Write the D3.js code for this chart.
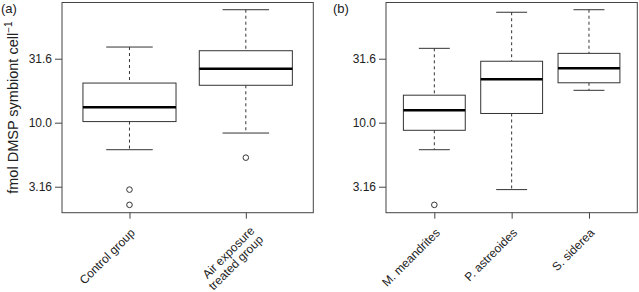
<!DOCTYPE html>
<html>
<head>
<meta charset="utf-8">
<script src="https://cdn.jsdelivr.net/npm/d3@7"></script>
<style>
  body { margin: 0; background: #fff; }
  text { font-family: "Liberation Sans", Arial, sans-serif; fill: #222; }
</style>
</head>
<body>
<script>
// panel (a) data
var groupsA = ["Control group", "Air exposure|treated group"];
var hiA = [39.0, 76.3];
var q3A = [20.4, 36.5];
var medA = [13.2, 26.4];
var q1A = [10.2, 19.6];
var loA = [6.15, 8.3];
var outA = [[3.0, 2.28], [5.33]];

// panel (b) data
var groupsB = ["M. meandrites", "P. astreoides", "S. siderea"];
var hiB = [38.1, 72.9, 76.3];
var q3B = [16.4, 30.2, 34.8];
var medB = [12.5, 21.8, 26.6];
var q1B = [8.72, 11.8, 20.5];
var loB = [6.15, 3.0, 17.9];
var outB = [[2.28], [], []];

var tickVals = [3.16, 10.0, 31.6];
var tickLabels = ["3.16", "10.0", "31.6"];

var W = 639, H = 292;
var plotTop = 2.5, plotBottom = 212.7;

var svg = d3.select("body").append("svg")
    .attr("width", W)
    .attr("height", H);

var y = d3.scaleLog()
    .domain([1.98, 86.9])
    .range([plotBottom, plotTop]);

function panel(opts) {
  var g = svg.append("g");
  var x = d3.scalePoint()
      .domain(opts.groups)
      .range([opts.left, opts.right])
      .padding(opts.pad);
  var bw = x.step() * 0.8;

  var rows = opts.groups.map(function(name, i) {
    return {name: name, hi: opts.hi[i], q3: opts.q3[i], med: opts.med[i],
            q1: opts.q1[i], lo: opts.lo[i], out: opts.out[i]};
  });

  // frame
  g.append("rect")
    .attr("x", opts.left).attr("y", plotTop)
    .attr("width", opts.right - opts.left).attr("height", plotBottom - plotTop)
    .attr("fill", "none").attr("stroke", "#444").attr("stroke-width", 1);

  // y axis
  var yAxis = g.append("g")
    .attr("transform", "translate(" + opts.left + ",0)")
    .call(d3.axisLeft(y).tickValues(tickVals)
      .tickFormat(function(d, i) { return tickLabels[i]; })
      .tickSize(7).tickPadding(3));
  yAxis.select(".domain").remove();
  yAxis.selectAll("line").attr("stroke", "#444");
  yAxis.selectAll("text").attr("font-size", 12).attr("fill", "#222")
    .attr("font-family", "Liberation Sans, Arial, sans-serif");

  // x axis
  var xAxis = g.append("g")
    .attr("transform", "translate(0," + plotBottom + ")")
    .call(d3.axisBottom(x).tickSize(6).tickFormat(""));
  xAxis.select(".domain").remove();
  xAxis.selectAll("line").attr("stroke", "#444");

  xAxis.selectAll(".tick").each(function(d) {
    var lines = d.split("|");
    var t = d3.select(this).append("text")
      .attr("transform", lines.length > 1 ? "translate(6,16) rotate(-45)" : "translate(3,18) rotate(-45)")
      .attr("text-anchor", "end")
      .attr("font-size", 12)
      .attr("fill", "#222")
      .attr("font-family", "Liberation Sans, Arial, sans-serif");
    lines.forEach(function(line, j) {
      t.append("tspan").attr("x", 0).attr("dy", j === 0 ? 4 : 12.5)
        .text(line);
    });
  });

  var box = g.selectAll(".box").data(rows).enter().append("g");

  // whiskers (dashed)
  box.append("line")
    .attr("x1", function(d) { return x(d.name); })
    .attr("x2", function(d) { return x(d.name); })
    .attr("y1", function(d) { return y(d.hi); })
    .attr("y2", function(d) { return y(d.q3); })
    .attr("stroke", "#333").attr("stroke-dasharray", "3,3");
  box.append("line")
    .attr("x1", function(d) { return x(d.name); })
    .attr("x2", function(d) { return x(d.name); })
    .attr("y1", function(d) { return y(d.q1); })
    .attr("y2", function(d) { return y(d.lo); })
    .attr("stroke", "#333").attr("stroke-dasharray", "3,3");

  // caps
  ["hi", "lo"].forEach(function(k) {
    box.append("line")
      .attr("x1", function(d) { return x(d.name) - bw / 4; })
      .attr("x2", function(d) { return x(d.name) + bw / 4; })
      .attr("y1", function(d) { return y(d[k]); })
      .attr("y2", function(d) { return y(d[k]); })
      .attr("stroke", "#333").attr("stroke-width", 1);
  });

  // box
  box.append("rect")
    .attr("x", function(d) { return x(d.name) - bw / 2; })
    .attr("y", function(d) { return y(d.q3); })
    .attr("width", bw)
    .attr("height", function(d) { return y(d.q1) - y(d.q3); })
    .attr("fill", "#fff").attr("stroke", "#333").attr("stroke-width", 1);

  // median
  box.append("line")
    .attr("x1", function(d) { return x(d.name) - bw / 2; })
    .attr("x2", function(d) { return x(d.name) + bw / 2; })
    .attr("y1", function(d) { return y(d.med); })
    .attr("y2", function(d) { return y(d.med); })
    .attr("stroke", "#000").attr("stroke-width", 2.5);

  // outliers
  box.each(function(d) {
    d3.select(this).selectAll("circle").data(d.out).enter().append("circle")
      .attr("cx", x(d.name))
      .attr("cy", function(v) { return y(v); })
      .attr("r", 2.8)
      .attr("fill", "none").attr("stroke", "#333").attr("stroke-width", 1);
  });

  svg.append("text")
    .attr("x", opts.labelX).attr("y", 13)
    .attr("font-size", 13)
    .text(opts.label);
}

panel({groups: groupsA, hi: hiA, q3: q3A, med: medA, q1: q1A, lo: loA, out: outA,
       left: 62, right: 313.3, pad: 0.58, label: "(a)", labelX: 1});
panel({groups: groupsB, hi: hiB, q3: q3B, med: medB, q1: q1B, lo: loB, out: outB,
       left: 386, right: 637.3, pad: 0.625, label: "(b)", labelX: 333});

// y axis title
var yt = svg.append("text")
  .attr("transform", "translate(17.5," + ((plotTop + plotBottom) / 2) + ") rotate(-90)")
  .attr("text-anchor", "middle")
  .attr("font-size", 14.5);
yt.append("tspan").text("fmol DMSP symbiont cell");
yt.append("tspan").attr("dy", -5.5).attr("font-size", 10).text("\u22121");
</script>
</body>
</html>
